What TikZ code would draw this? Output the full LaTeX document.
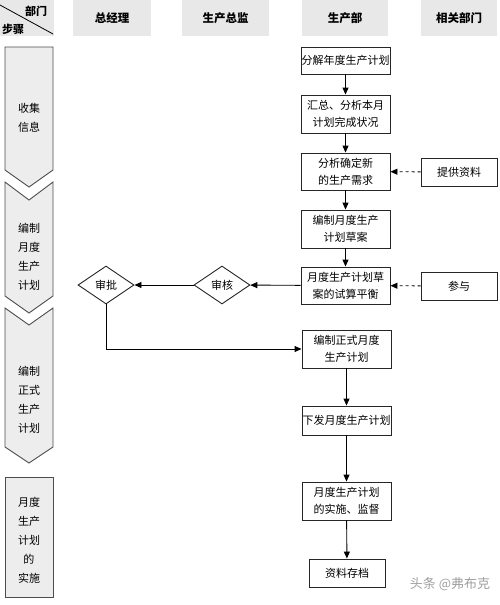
\documentclass[tikz,border=0pt]{standalone}
\usepackage{fontspec}
\setmainfont{Noto Sans CJK SC}
\usetikzlibrary{shapes.geometric,arrows.meta,positioning}

\begin{document}
\begin{tikzpicture}[x=1pt,y=-1pt,
    box/.style={draw=black!85,line width=0.9pt,fill=white,align=center,inner sep=0.5pt,
      minimum width=89pt,font=\fontsize{11}{17}\selectfont},
    head/.style={fill=gray!18,minimum height=36pt,inner sep=0pt,font=\bfseries\fontsize{11.5}{13}\selectfont},
    stepcol/.style={fill=gray!14,draw=black!70,line width=0.9pt},
    steptext/.style={align=center,font=\fontsize{11}{19}\selectfont},
    check/.style={diamond,draw=black!85,line width=0.9pt,minimum width=56pt,minimum height=38pt,
      inner sep=0pt,font=\fontsize{11}{12}\selectfont},
    arr/.style={-{Triangle[length=7pt,width=6pt]},line width=0.9pt},
    darr/.style={arr,dashed}]
  \useasboundingbox (0,0) rectangle (500,605);
  % header row
  \fill[gray!18] (0,0) rectangle (54,36);
  \draw[line width=0.8pt] (0,5) -- (53,34);
  \node[font=\bfseries\fontsize{11}{12}\selectfont] (bm) at (36,11) {部门};
  \node[font=\bfseries\fontsize{11}{12}\selectfont] (bz) at (13,29) {步骤};
  \node[head,minimum width=78pt] (zjl) at (112,18) {总经理};
  \node[head,minimum width=87pt] (sczj) at (225.5,18) {生产总监};
  \node[head,minimum width=86pt] (scb) at (345,18) {生产部};
  \node[head,minimum width=76pt] (xgbm) at (459,18) {相关部门};
  % step column
  \draw[stepcol] (5,47) -- (53,47) -- (53,170) -- (29,187) -- (5,170) -- cycle;
  \draw[stepcol] (5,182) -- (29,200) -- (53,182) -- (53,296) -- (29,313) -- (5,296) -- cycle;
  \draw[stepcol] (5,308) -- (29,325) -- (53,308) -- (53,447) -- (29,463) -- (5,447) -- cycle;
  \draw[stepcol] (5,477) rectangle (53,597);
  \node[steptext] (s1) at (29,117.5) {收集\\信息};
  \node[steptext] (s2) at (29,256.5) {编制\\月度\\生产\\计划};
  \node[steptext] (s3) at (29,399.5) {编制\\正式\\生产\\计划};
  \node[steptext] (s4) at (29,540) {月度\\生产\\计划\\的\\实施};
  % production department
  \node[box,minimum height=27pt] (fj) at (345.5,60.5) {分解年度生产计划};
  \node[box,minimum height=38pt] (hz) at (345.5,114) {汇总、分析本月\\计划完成状况};
  \node[box,minimum height=37pt] (fx) at (345.5,171.5) {分析确定新\\的生产需求};
  \node[box,minimum height=38pt] (cg) at (345.5,229) {编制月度生产\\计划草案};
  \node[box,minimum height=37pt] (ys) at (345.5,285.5) {月度生产计划草\\案的试算平衡};
  \node[box,minimum height=38pt] (zs) at (346.5,349) {编制正式月度\\生产计划};
  \node[box,minimum height=29pt] (xf) at (346.5,420.5) {下发月度生产计划};
  \node[box,minimum height=38pt] (ss) at (346.5,501) {月度生产计划\\的实施、监督};
  \node[box,minimum height=28pt,minimum width=76pt] (cd) at (347,573) {资料存档};
  % related departments
  \node[box,minimum height=28pt,minimum width=76pt] (tg) at (459,172) {提供资料};
  \node[box,minimum height=28pt,minimum width=76pt] (cy) at (459,286) {参与};
  % checks
  \node[check] (sh) at (222,285) {审核};
  \node[check] (sp) at (106,285) {审批};
  \draw[arr] (fj) -- (hz);
  \draw[arr] (hz) -- (fx);
  \draw[arr] (fx) -- (cg);
  \draw[arr] (cg) -- (ys);
  \draw[arr] (zs) -- (xf);
  \draw[arr] (xf) -- (ss);
  \draw[arr] (ss) -- (cd);
  \draw[darr] (tg) -- (fx);
  \draw[darr] (cy) -- (ys);
  \draw[arr] (ys) -- (sh);
  \draw[arr] (sh) -- (sp);
  \draw[arr] (sp.south) |- (zs.west);
  % watermark
  \node[text=gray!75,font=\fontsize{13}{15}\selectfont] (wm) at (450,584) {头条 @弗布克};
\end{tikzpicture}
\end{document}
